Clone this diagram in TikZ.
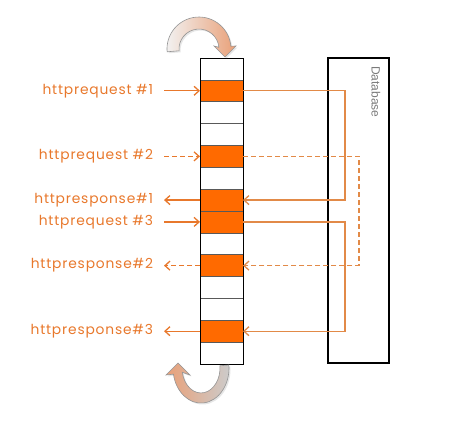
\documentclass[tikz,border=0pt]{standalone}
\usepackage{fontspec}
\setmainfont{Poppins}[LetterSpace=6]
\newfontfamily\dbfont{Liberation Sans}
\usetikzlibrary{arrows.meta,positioning,calc,shadows}
\definecolor{cCell}{HTML}{FF6A00}
\definecolor{cText}{HTML}{E8782C}
\definecolor{cLink}{HTML}{E28A48}
\definecolor{cGray}{HTML}{7A7A7A}
\definecolor{cPeach}{HTML}{E9A078}
\tikzset{
  cell/.style={draw=black!65,fill=#1,minimum width=43pt,minimum height=21.86pt,inner sep=0pt,outer sep=0pt,line width=0.7pt},
  cell/.default=white,
  lbl/.style={font=\fontsize{13.8}{15}\selectfont,text=cText,anchor=east,inner sep=0pt,outer sep=0pt},
  arr/.style={-{Straight Barb[length=5pt,width=9pt]},line width=1.3pt,color=cText},
  link/.style={-{Straight Barb[length=5pt,width=9pt]},line width=1.3pt,color=cLink},
  dashline/.style={dash pattern=on 5pt off 3pt},
  swirl/.style={draw=cGray!80,line width=0.6pt,drop shadow={opacity=0.2,shadow xshift=1.5pt,shadow yshift=-1.5pt}},
}
\begin{document}
\begin{tikzpicture}[x=1pt,y=1pt]
  \useasboundingbox (0,0) rectangle (461,434);
  % database box
  \node[draw,line width=2pt,minimum width=61pt,minimum height=305pt,inner sep=0pt] (db) at (358.5,223.5) {};
  \node[font=\dbfont\fontsize{12}{14}\selectfont,text=cGray,rotate=-90,anchor=west,inner sep=0pt] (dbl) at ([xshift=-14pt,yshift=-9pt]db.north east) {Database};
  % queue column
  \foreach \i/\c in {0/white,1/cCell,2/white,3/white,4/cCell,5/white,6/cCell,7/cCell,8/white,9/cCell,10/white,11/white,12/cCell,13/white}
    \node[cell=\c] (c\i) at (221.5,{376-21.857*(\i+0.5)}) {};
  \draw[line width=0.8pt] (c0.north west) rectangle (c13.south east);
  % labels
  \foreach \i/\t in {1/{httprequest \#1},4/{httprequest \#2},6/{httpresponse\#1},7/{httprequest \#3},9/{httpresponse\#2},12/{httpresponse\#3}}
    \node[lbl] (l\i) at ([xshift=-47pt]c\i.west) {\t};
  \draw[arr,shorten <=11pt] (l1.east) -- (c1.west);
  \draw[arr,dashline,shorten <=11pt] (l4.east) -- (c4.west);
  \draw[arr,shorten >=11pt] (c6.west) -- (l6.east);
  \draw[arr,shorten <=11pt] (l7.east) -- (c7.west);
  \draw[arr,dashline,shorten >=11pt] (c9.west) -- (l9.east);
  \draw[arr,shorten >=11pt] (c12.west) -- (l12.east);
  % round trips to the database
  \draw[link] (c1.east) -- ++(102,0) |- (c6.east);
  \draw[link,dashline] (c4.east) -- ++(116,0) |- (c9.east);
  \draw[link] (c7.east) -- ++(102,0) |- (c12.east);
  % rotating arrows
  \path[swirl,left color=gray!10,right color=cPeach] (167.1,382.2) arc[start angle=185,end angle=5,radius=32]
    -- (236,388) -- (225,377) -- (214,388) -- (218.9,386.7) arc[start angle=5,end angle=185,radius=20] -- cycle;
  \path[swirl,left color=cPeach,right color=gray!40] (228.9,69) arc[start angle=5,end angle=-170,x radius=28,y radius=35]
    -- (166,59) -- (178,71) -- (190,59) -- (182.3,61.7) arc[start angle=-170,end angle=5,x radius=19,y radius=25] -- cycle;
\end{tikzpicture}
\end{document}
